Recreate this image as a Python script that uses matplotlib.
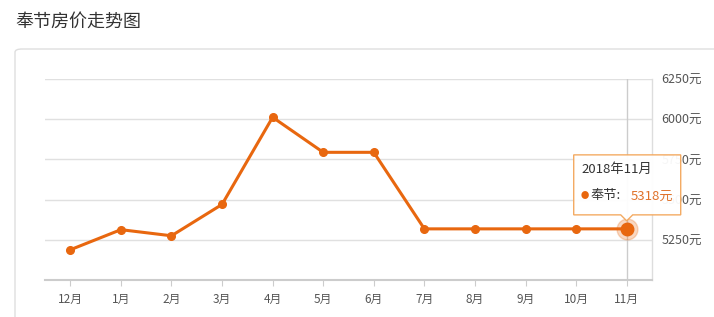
import numpy as np
import matplotlib
matplotlib.use("Agg")
from matplotlib import pyplot as plt
from matplotlib.patches import FancyBboxPatch, Polygon
from matplotlib.transforms import IdentityTransform

plt.rcParams['font.family'] = ['Noto Sans CJK SC', 'DejaVu Sans']

# data
months = ['12月', '1月', '2月', '3月', '4月', '5月', '6月', '7月', '8月', '9月', '10月', '11月']
prices = [5188, 5313, 5275, 5470, 6012, 5794, 5794, 5318, 5318, 5318, 5318, 5318]
y_ticks = [5250, 5500, 5750, 6000, 6250]
city = '奉节'
last_label = '2018年11月'

orange = '#e8670f'
W, H = 714, 317

fig = plt.figure(figsize=(W / 100, H / 100), dpi=100)

# outer card and title
card = FancyBboxPatch((15 / W, -0.1), 1.2, (H - 49) / H + 0.1, boxstyle='round,pad=0,rounding_size=0.01',
                      transform=fig.transFigure, facecolor='white', edgecolor='#dedede', lw=1, zorder=-10)
fig.patches.append(card)
fig.text(15 / W, 1 - 22 / H, '奉节房价走势图', fontsize=13, color='#333333', va='center', ha='left')

ax = fig.add_axes([45 / W, 1 - 280 / H, (652 - 45) / W, (280 - 79) / H])
ax.set_facecolor('none')
x = np.arange(len(months))

ax.set_xlim(-0.5, len(months) - 0.5)
ax.set_ylim(5000, 6250)

# grid
for v in y_ticks:
    ax.axhline(v, color='#e0e0e0', lw=1, zorder=0)
ax.axvline(x[-1], color='#cccccc', lw=1, zorder=1)

for side in ['top', 'left']:
    ax.spines[side].set_visible(False)
ax.spines['bottom'].set_color('#cccccc')
ax.spines['bottom'].set_linewidth(1.5)
ax.spines['right'].set_color('#dddddd')
ax.spines['right'].set_linewidth(1)

ax.set_xticks(x)
ax.set_xticklabels(months)
ax.tick_params(axis='x', length=4, color='#cccccc', labelsize=8.5, labelcolor='#555555', pad=5)
ax.yaxis.tick_right()
ax.set_yticks(y_ticks)
ax.set_yticklabels([f'{v}元' for v in y_ticks])
ax.tick_params(axis='y', length=0, labelsize=9, labelcolor='#555555', pad=7)

# line
ax.plot(x, prices, color=orange, lw=2.2, marker='o', markersize=5.5, zorder=3)
ax.plot(x[-1], prices[-1], 'o', color=orange, markersize=15, alpha=0.25, zorder=4)
ax.plot(x[-1], prices[-1], 'o', color=orange, markersize=9, zorder=5)

# tooltip
px, py = ax.transData.transform((x[-1], prices[-1]))
top, bot, left, right = py + 74, py + 14, px - 53, px + 54
tip = py + 8
verts = [(left, top), (right, top), (right, bot), (px + 6, bot), (px, tip), (px - 6, bot), (left, bot)]
ax.add_patch(Polygon(verts, closed=True, transform=IdentityTransform(), facecolor='white',
                     edgecolor='#f3a65a', lw=1, alpha=0.95, zorder=6, clip_on=False))
fig.text((left + 8) / W, (py + 59) / H, last_label, fontsize=9.5, color='#333333', va='center', zorder=7)
fig.text((left + 7) / W, (py + 33) / H, '●', fontsize=6, color=orange, va='center', zorder=7)
fig.text((left + 17) / W, (py + 33) / H, f'{city}:', fontsize=9.5, color='#333333', va='center', zorder=7)
fig.text((left + 57) / W, (py + 33) / H, f'{prices[-1]}元', fontsize=9.5, color='#e0722a', va='center', zorder=7)

fig.savefig('out.png', dpi=100)
